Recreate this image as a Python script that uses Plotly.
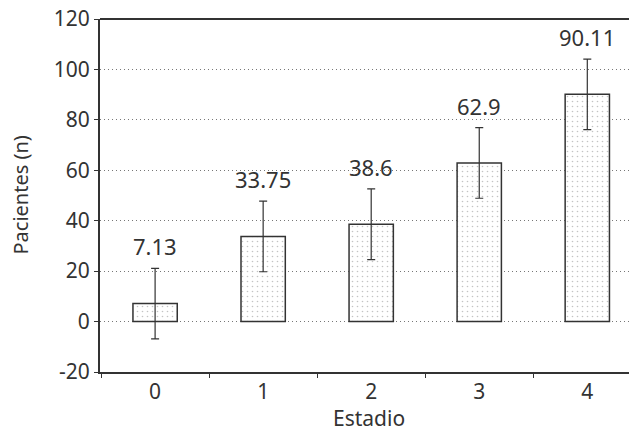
import plotly.graph_objects as go

categories = ["0", "1", "2", "3", "4"]
values = [7.13, 33.75, 38.6, 62.9, 90.11]
errors = [14, 14, 14, 14, 14]
labels = ["7.13", "33.75", "38.6", "62.9", "90.11"]
y_ticks = [-20, 0, 20, 40, 60, 80, 100, 120]
y_tick_text = ["-20", "0", "20", "40", "60", "80", "100", "120"]

dark = "#333333"
font_family = "Noto Sans"

fig = go.Figure()
fig.add_trace(go.Bar(
    x=categories, y=values, width=0.41,
    marker=dict(
        color="white",
        line=dict(color=dark, width=1.5),
        pattern=dict(shape=".", size=5, solidity=0.08, fgcolor="#888888",
                     bgcolor="white", fillmode="overlay"),
    ),
    error_y=dict(type="data", array=errors, visible=True, color=dark,
                 thickness=1.2, width=4),
    showlegend=False,
))

for c, v, e, t in zip(categories, values, errors, labels):
    fig.add_annotation(x=c, y=v + e, text=t, showarrow=False,
                       yanchor="middle", yshift=22,
                       font=dict(family=font_family, size=22, color=dark))

fig.add_annotation(xref="paper", yref="paper", x=0.5, y=0, yshift=-46,
                   xanchor="center", yanchor="middle", text="Estadio",
                   showarrow=False, font=dict(size=21, color=dark))
fig.add_annotation(xref="paper", yref="paper", x=0, xshift=-80, y=0.5,
                   xanchor="center", yanchor="middle", text="Pacientes (n)",
                   textangle=-90, showarrow=False, font=dict(size=20, color=dark))

# top frame line
fig.add_shape(type="line", xref="paper", yref="paper", x0=0, x1=1, y0=1, y1=1,
              line=dict(color=dark, width=2))

fig.update_layout(
    width=637, height=430,
    margin=dict(l=92, r=8, t=11, b=66),
    plot_bgcolor="white", paper_bgcolor="white",
    font=dict(family=font_family, size=20, color=dark),
    xaxis=dict(
        type="category", range=[-0.51, 4.46], automargin=False,
        showline=True, linecolor=dark, linewidth=2,
        ticks="outside", tickson="boundaries", ticklen=4, tickcolor=dark,
        showgrid=False, ticklabeloverflow="allow",
        tickfont=dict(size=21),
    ),
    yaxis=dict(
        range=[-20, 120], tickvals=y_ticks, ticktext=y_tick_text,
        automargin=False, ticklabeloverflow="allow",
        showline=True, linecolor=dark, linewidth=2,
        ticks="outside", ticklen=4, tickcolor=dark,
        showgrid=True, gridcolor="#777777", griddash="1px,3px", gridwidth=1,
        zeroline=False,
        tickfont=dict(size=21),
    ),
)

fig.write_html("out.html")
